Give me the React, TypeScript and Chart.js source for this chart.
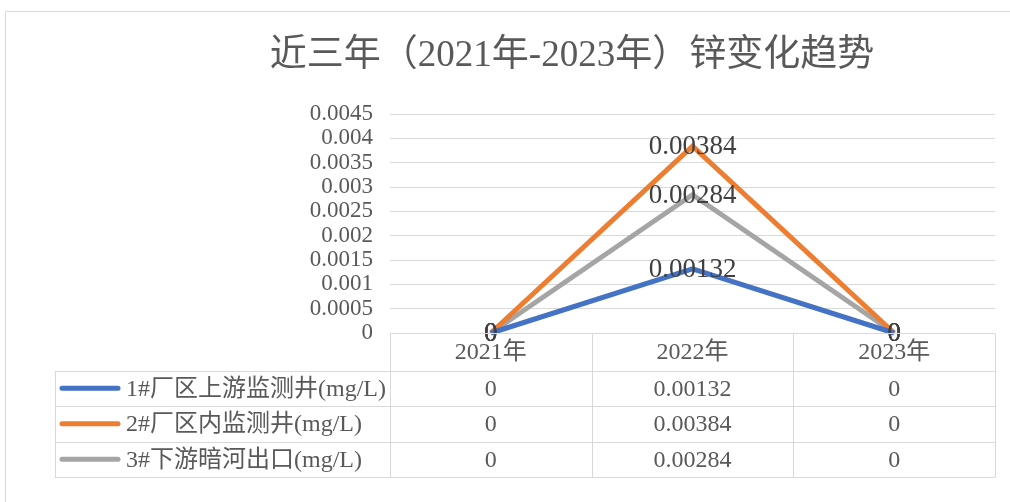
import React, { useEffect, useRef } from "react";
import { Chart, registerables } from "chart.js";

Chart.register(...registerables);

const categories = ["2021年", "2022年", "2023年"];
const seriesNames = ["1#厂区上游监测井(mg/L)", "2#厂区内监测井(mg/L)", "3#下游暗河出口(mg/L)"];
const upstream = [0, 0.00132, 0];
const inside = [0, 0.00384, 0];
const downstream = [0, 0.00284, 0];
const cellText1 = ["0", "0.00132", "0"];
const cellText2 = ["0", "0.00384", "0"];
const cellText3 = ["0", "0.00284", "0"];
const yTicks = [0, 0.0005, 0.001, 0.0015, 0.002, 0.0025, 0.003, 0.0035, 0.004, 0.0045];
const colors = ["#4472C4", "#ED7D31", "#A5A5A5"];
const title = "近三年（2021年-2023年）锌变化趋势";

const FONT = "'Liberation Serif', 'Noto Sans CJK SC', serif";
const GRID = "#d9d9d9";
const TEXT = "#595959";

export default function App() {
  const ref = useRef<HTMLCanvasElement>(null);
  useEffect(() => {
    const canvas = ref.current!;
    const allSeries = [upstream, inside, downstream];
    const cellTexts = [cellText1, cellText2, cellText3];

    const decor = {
      id: "decor",
      beforeDraw(chart: any) {
        const ctx = chart.ctx;
        ctx.save();
        ctx.fillStyle = "#fff";
        ctx.fillRect(0, 0, chart.width, chart.height);
        ctx.strokeStyle = GRID;
        ctx.lineWidth = 1;
        ctx.beginPath();
        ctx.moveTo(5.5, chart.height);
        ctx.lineTo(5.5, 11.5);
        ctx.lineTo(chart.width, 11.5);
        ctx.stroke();
        ctx.fillStyle = TEXT;
        ctx.font = `37px ${FONT}`;
        ctx.textAlign = "center";
        ctx.textBaseline = "middle";
        ctx.fillText(title, 572, 56);
        ctx.restore();
      },
      afterDatasetsDraw(chart: any) {
        const ctx = chart.ctx;
        ctx.save();
        ctx.fillStyle = "#404040";
        ctx.font = `27px ${FONT}`;
        ctx.textAlign = "center";
        ctx.textBaseline = "middle";
        chart.data.datasets.forEach((ds: any, di: number) => {
          const meta = chart.getDatasetMeta(di);
          meta.data.forEach((pt: any, i: number) => {
            ctx.fillText(String(ds.data[i]), pt.x, pt.y + 1);
          });
        });
        ctx.restore();
      },
      afterDraw(chart: any) {
        const ctx = chart.ctx;
        const area = chart.chartArea;
        const xs = chart.scales.x;
        const left = area.left;
        const right = area.right;
        const colW = (right - left) / categories.length;
        const top = area.bottom;
        const headerB = top + 37.5;
        const rowH = 35.5;
        const tableL = 55;
        const bottom = headerB + rowH * seriesNames.length;
        ctx.save();
        ctx.strokeStyle = GRID;
        ctx.lineWidth = 1;
        ctx.beginPath();
        const r = (v: number) => Math.round(v) + 0.5;
        ctx.moveTo(left, r(top));
        ctx.lineTo(right, r(top));
        for (let i = 0; i <= seriesNames.length; i++) {
          const y = r(headerB + rowH * i);
          ctx.moveTo(tableL, y);
          ctx.lineTo(right, y);
        }
        for (let i = 0; i <= categories.length; i++) {
          const x = r(left + colW * i);
          ctx.moveTo(x, r(top));
          ctx.lineTo(x, r(bottom));
        }
        ctx.moveTo(r(tableL), r(headerB));
        ctx.lineTo(r(tableL), r(bottom));
        ctx.stroke();

        ctx.fillStyle = TEXT;
        ctx.font = `24px ${FONT}`;
        ctx.textAlign = "center";
        ctx.textBaseline = "middle";
        categories.forEach((c, i) => {
          ctx.fillText(c, xs.getPixelForValue(i), (top + headerB) / 2 + 1);
        });
        seriesNames.forEach((name, si) => {
          const cy = headerB + rowH * si + rowH / 2;
          ctx.strokeStyle = colors[si];
          ctx.lineWidth = 5;
          ctx.lineCap = "round";
          ctx.beginPath();
          ctx.moveTo(62, cy);
          ctx.lineTo(118, cy);
          ctx.stroke();
          ctx.textAlign = "left";
          ctx.fillStyle = TEXT;
          ctx.fillText(name, 126, cy + 1);
          ctx.textAlign = "center";
          cellTexts[si].forEach((t, i) => {
            ctx.fillText(t, xs.getPixelForValue(i), cy + 1);
          });
        });
        ctx.restore();
      },
    };

    const chart = new Chart(canvas, {
      type: "line",
      data: {
        labels: categories,
        datasets: allSeries.map((d, i) => ({
          label: seriesNames[i],
          data: d,
          borderColor: colors[i],
          backgroundColor: colors[i],
          borderWidth: 5,
          pointRadius: 0,
          tension: 0,
          clip: false as any,
        })),
      },
      options: {
        responsive: false,
        animation: false,
        layout: { padding: { top: 114, right: 15, bottom: 169, left: 0 } },
        plugins: { legend: { display: false }, title: { display: false }, tooltip: { enabled: false } },
        scales: {
          x: {
            offset: true,
            grid: { display: false, drawTicks: false },
            border: { display: false },
            ticks: { display: false },
            afterFit: (s: any) => { s.height = 0; },
          },
          y: {
            min: 0,
            max: 0.0045,
            afterBuildTicks: (s: any) => { s.ticks = yTicks.map((v) => ({ value: v })); },
            ticks: {
              color: TEXT,
              font: { family: FONT, size: 23, lineHeight: 1 },
              padding: 17,
              autoSkip: false,
              callback: (v: any) => String(v),
            },
            grid: { color: GRID, lineWidth: 1, drawTicks: false },
            border: { display: false },
            afterFit: (s: any) => { s.width = 390; },
          },
        },
      },
      plugins: [decor],
    });
    return () => chart.destroy();
  }, []);
  return (
    <div style={{ position: "fixed", left: 0, top: 0, width: 1010, height: 502, background: "#fff" }}>
      <canvas ref={ref} width={1010} height={502} />
    </div>
  );
}
